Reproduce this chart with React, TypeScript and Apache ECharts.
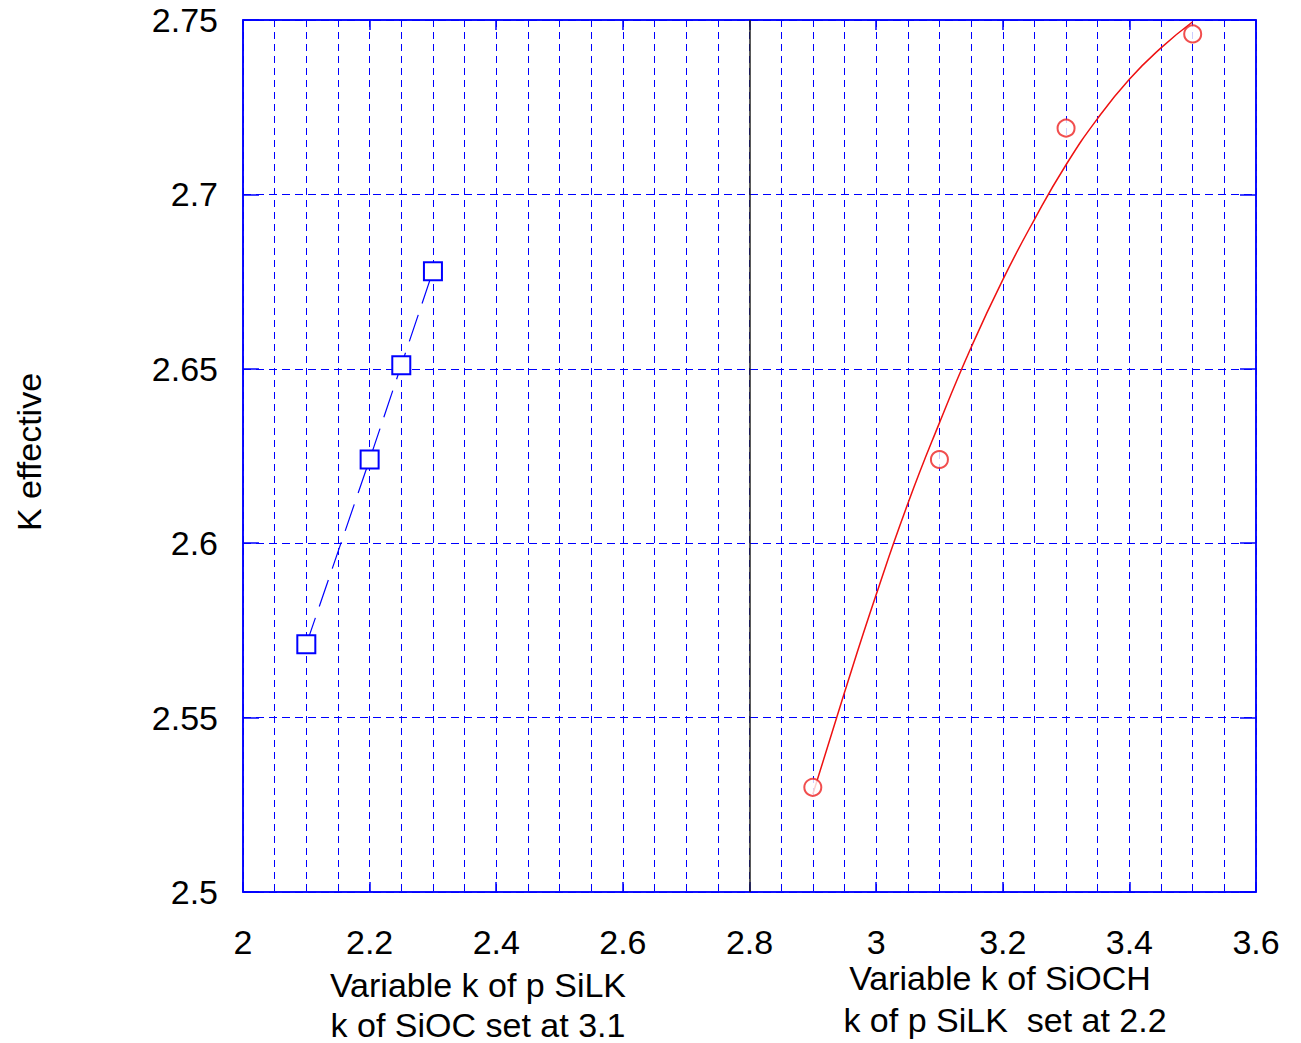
import React, { useEffect, useRef } from "react";
import * as echarts from "echarts";

const silkK = [2.1, 2.2, 2.25, 2.3];
const silkKeff = [2.571, 2.624, 2.651, 2.678];

const siochK = [2.9, 3.1, 3.3, 3.5];
const siochKeff = [2.53, 2.624, 2.719, 2.746];

const fitK = [2.9, 2.95, 3.0, 3.05, 3.1, 3.15, 3.2, 3.25, 3.3, 3.35, 3.4, 3.45, 3.5];
const fitKeff = [2.528, 2.5572, 2.5852, 2.6113, 2.6345, 2.6561, 2.6755, 2.6928, 2.7085, 2.7218, 2.733, 2.742, 2.7495];

const dividerK = 2.8;

const xTicks = ["2", "2.2", "2.4", "2.6", "2.8", "3", "3.2", "3.4", "3.6"];
const yTicks = ["2.5", "2.55", "2.6", "2.65", "2.7", "2.75"];

const FONT = "Liberation Sans, Arial, sans-serif";
const BLUE = "#0000ff";
const FS = 34;

export default function App() {
  const ref = useRef<HTMLDivElement>(null);
  useEffect(() => {
    document.body.style.margin = "0";
    const chart = echarts.init(ref.current!, null, { renderer: "svg" });
    const xMin = Number(xTicks[0]);
    const xMax = Number(xTicks[xTicks.length - 1]);
    const yMin = Number(yTicks[0]);
    const yMax = Number(yTicks[yTicks.length - 1]);
    const gridDash = { color: BLUE, type: [7, 5] as any, width: 1 };
    const xCommon = {
      type: "value" as const,
      min: xMin,
      max: xMax,
      interval: 0.2,
      axisLine: { show: true, lineStyle: { color: BLUE, width: 1.5 } },
    };
    const yCommon = {
      type: "value" as const,
      min: yMin,
      max: yMax,
      interval: 0.05,
      axisLine: { show: true, lineStyle: { color: BLUE, width: 1.5 } },
    };
    const textStyle = { fontSize: FS, fontFamily: FONT, fill: "#000", align: "center", verticalAlign: "middle" };
    chart.setOption({
      animation: false,
      backgroundColor: "#ffffff",
      grid: {
        left: 243,
        top: 20,
        width: 1013,
        height: 872,
        show: true,
        borderColor: BLUE,
        borderWidth: 1.5,
      },
      xAxis: [
        {
          ...xCommon,
          position: "bottom",
          axisTick: { show: true, inside: true, length: 10, lineStyle: { color: BLUE, width: 1.5 } },
          axisLabel: {
            color: "#000",
            fontSize: FS,
            fontFamily: FONT,
            margin: 33,
            formatter: (v: number) => String(Number(v.toFixed(2))),
          },
          splitLine: { show: true, lineStyle: gridDash },
          minorTick: { show: false, splitNumber: 4 },
          minorSplitLine: { show: true, lineStyle: gridDash },
        },
        {
          ...xCommon,
          position: "top",
          axisTick: { show: true, inside: true, length: 10, lineStyle: { color: BLUE, width: 1.5 } },
          axisLabel: { show: false },
          splitLine: { show: false },
        },
      ],
      yAxis: [
        {
          ...yCommon,
          position: "left",
          axisTick: { show: true, inside: true, length: 16, lineStyle: { color: BLUE, width: 1.5 } },
          axisLabel: {
            color: "#000",
            fontSize: FS,
            fontFamily: FONT,
            margin: 25,
            formatter: (v: number) => String(Number(v.toFixed(2))),
          },
          splitLine: { show: true, lineStyle: { color: BLUE, type: [8, 5], width: 1 } },
        },
        {
          ...yCommon,
          position: "right",
          axisTick: { show: true, inside: true, length: 16, lineStyle: { color: BLUE, width: 1.5 } },
          axisLabel: { show: false },
          splitLine: { show: false },
        },
      ],
      series: [
        {
          name: "p SiLK sweep",
          type: "line",
          xAxisIndex: 0,
          yAxisIndex: 0,
          data: silkK.map((k, i) => [k, silkKeff[i]]),
          symbol: "emptyRect",
          symbolSize: 18,
          itemStyle: { color: BLUE, borderColor: BLUE, borderWidth: 1.5 },
          lineStyle: { color: BLUE, width: 1.2, type: [28, 12] },
          z: 5,
          markLine: {
            silent: true,
            symbol: "none",
            label: { show: false },
            lineStyle: { color: "#222", type: "solid", width: 1.5 },
            data: [{ xAxis: dividerK }],
          },
        },
        {
          name: "SiOCH fit",
          type: "line",
          xAxisIndex: 0,
          yAxisIndex: 0,
          data: fitK.map((k, i) => [k, fitKeff[i]]),
          showSymbol: false,
          symbol: "none",
          smooth: 0.5,
          lineStyle: { color: "#ee1111", width: 1.5 },
          z: 5,
        },
        {
          name: "SiOCH sweep",
          type: "scatter",
          xAxisIndex: 0,
          yAxisIndex: 0,
          data: siochK.map((k, i) => [k, siochKeff[i]]),
          symbol: "emptyCircle",
          symbolSize: 17,
          itemStyle: { color: "#ee2222", borderColor: "#ee2222", borderWidth: 1.5 },
          z: 6,
        },
      ],
      graphic: [
        {
          type: "text",
          x: 29,
          y: 452,
          rotation: Math.PI / 2,
          style: { text: "K effective", ...textStyle },
        },
        {
          type: "text",
          x: 478,
          y: 985,
          style: { text: "Variable k of p SiLK", ...textStyle },
        },
        {
          type: "text",
          x: 478,
          y: 1025,
          style: { text: "k of SiOC set at 3.1", ...textStyle },
        },
        {
          type: "text",
          x: 1000,
          y: 978,
          style: { text: "Variable k of SiOCH", ...textStyle },
        },
        {
          type: "text",
          x: 1005,
          y: 1020,
          style: { text: "k of p SiLK  set at 2.2", ...textStyle },
        },
      ],
    });
    return () => chart.dispose();
  }, []);
  return <div ref={ref} style={{ width: 1301, height: 1043 }} />;
}
